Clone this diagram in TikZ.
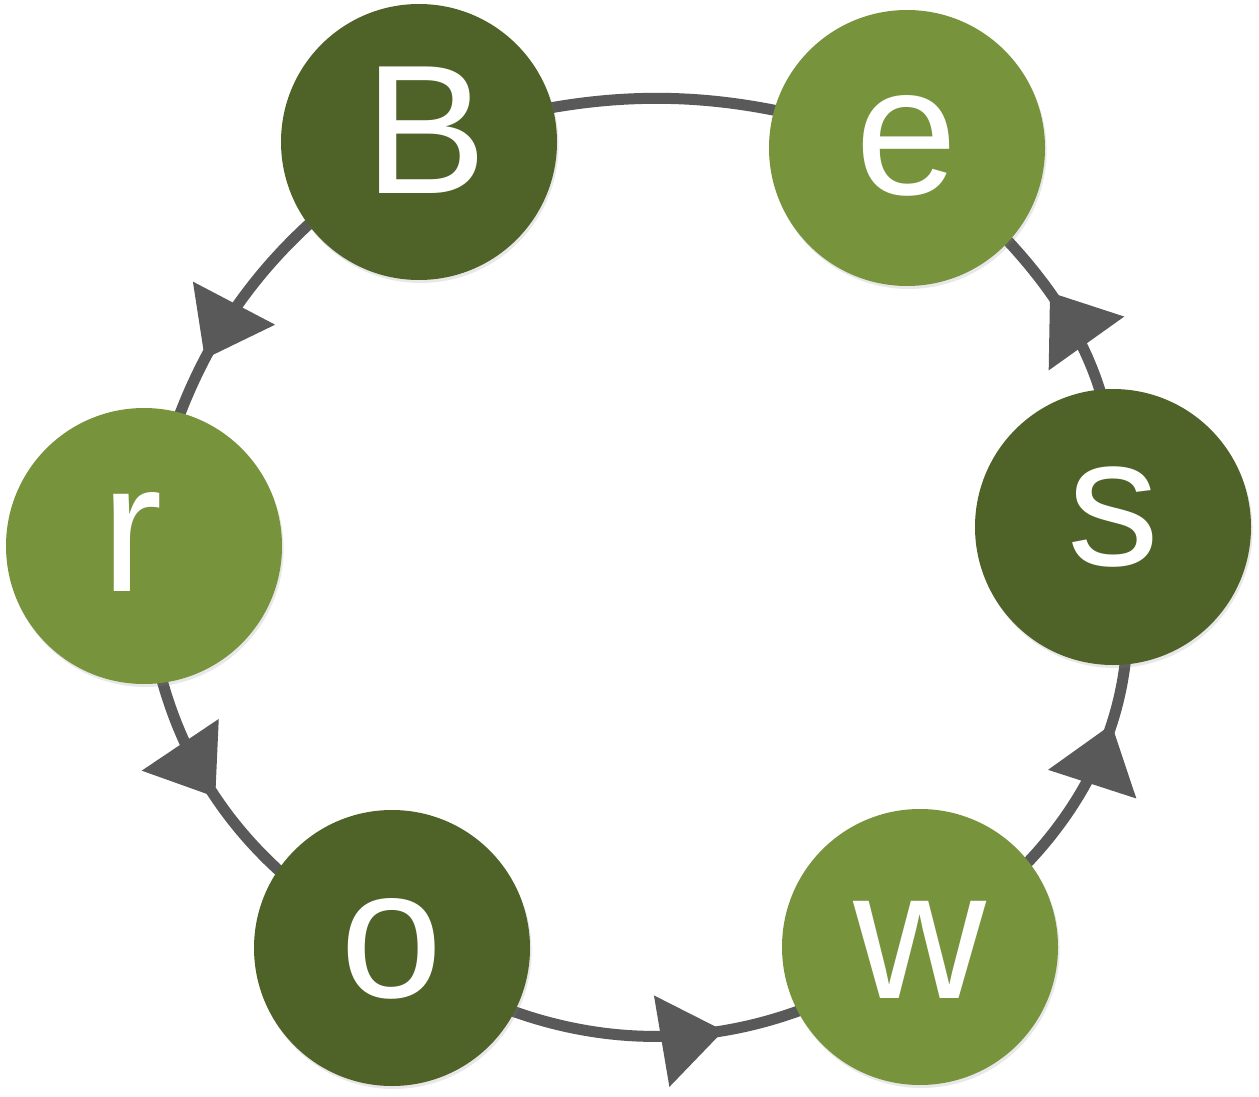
\documentclass[tikz,border=0pt]{standalone}
\usepackage{fontspec}
\setmainfont{Liberation Sans}
\usetikzlibrary{arrows.meta, decorations.markings, backgrounds, shadows}
\definecolor{darkolive}{HTML}{4F6228}
\definecolor{lightolive}{HTML}{77933C}
\definecolor{ringgray}{HTML}{595959}

\begin{document}
\begin{tikzpicture}[x=0.5pt, y=-0.5pt,
    letter/.style={circle, minimum size=138pt, inner sep=0pt, text=white,
        font=\fontsize{92}{100}\selectfont, text height=64pt, text depth=#1,
        drop shadow={opacity=0.18, shadow xshift=0.8pt, shadow yshift=-1.5pt}},
    letter/.default=17pt,
    ring/.style={line width=5.5pt, draw=ringgray},
    flow/.style={ring, decoration={markings,
        mark=at position #1 with {\arrow{Triangle[width=45pt, length=31.5pt]}}},
        postaction=decorate}
]
\useasboundingbox (0,0) rectangle (1259,1097);

\node[letter=13pt, fill=darkolive] (B) at (419,142) {\kern7pt B};
\node[letter=18pt, fill=lightolive] (e) at (907,148) {e};
\node[letter=26pt, fill=darkolive] (s) at (1113,527) {s};
\node[letter=13pt, fill=lightolive] (w) at (920,947) {w};
\node[letter=15pt, fill=darkolive] (o) at (392,948) {o};
\node[letter=19pt, fill=lightolive] (r) at (144,546) {\kern-12pt r};

\begin{scope}[on background layer]
\draw[flow=0.61] (B.center) to[bend right=24] (r.center);
\draw[flow=0.53] (r.center) to[bend right=31] (o.center);
\draw[flow=0.62] (o.center) to[bend right=35] (w.center);
\draw[flow=0.60] (w.center) to[out=-35, in=221, relative] (s.center);
\draw[flow=0.55] (s.center) to[out=-34, in=202, relative] (e.center);
\draw[ring] (e.center) to[bend right=19] (B.center);
\end{scope}

\end{tikzpicture}
\end{document}
